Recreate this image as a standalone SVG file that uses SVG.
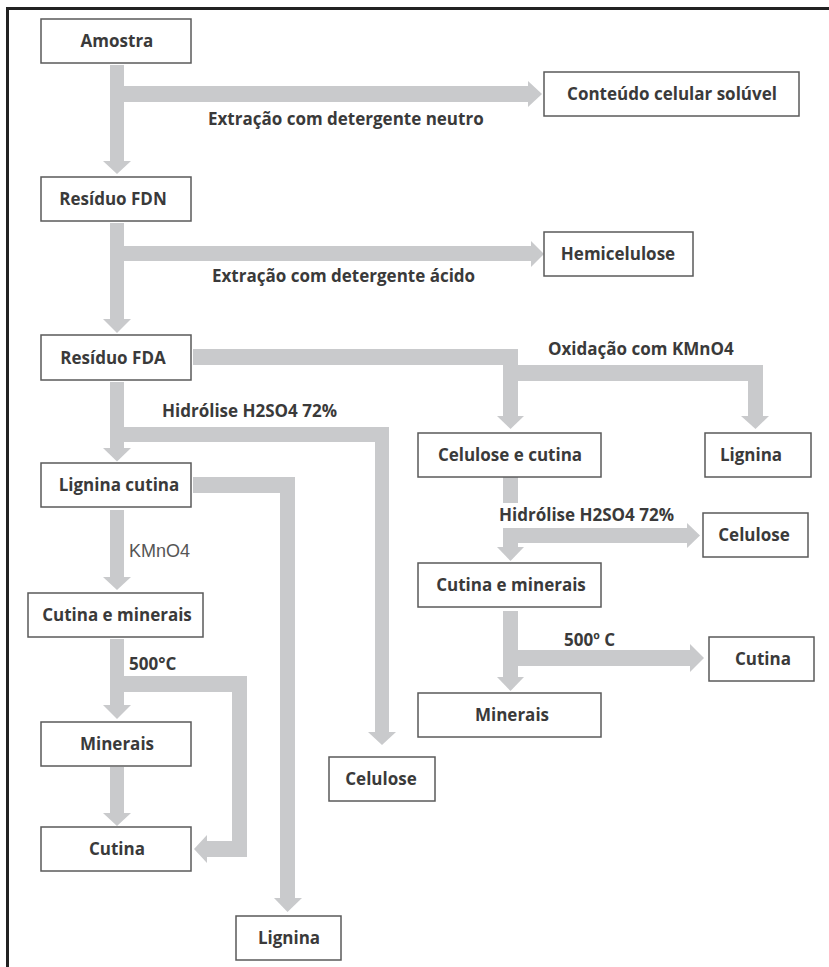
<svg xmlns="http://www.w3.org/2000/svg" width="829" height="967" viewBox="0 0 829 967">
<style>
.box{fill:#fff;stroke:#5a5a5a;stroke-width:1.5}
.t{font-family:"Open Sans","DejaVu Sans",sans-serif;font-weight:700;font-size:17px;fill:#3a3a3a}
.c{text-anchor:middle}
.r{font-family:"Liberation Sans",Arial,sans-serif;font-size:18px;fill:#555}
.a{fill:#c9cacc}
</style>
<rect x="0" y="0" width="829" height="967" fill="#fff"/>
<rect x="7.5" y="8.5" width="840" height="980" fill="none" stroke="#222" stroke-width="3"/>
<g id="connectors">
  <!-- Amostra -> FDN + branch -->
  <rect class="a" x="110" y="65" width="14" height="96"/>
  <polygon class="a" points="103,161 131,161 117,174"/>
  <rect class="a" x="124" y="86" width="404" height="16"/>
  <polygon class="a" points="528,81 528,107 542,94"/>
  <!-- FDN -> FDA + branch -->
  <rect class="a" x="110" y="223" width="14" height="96"/>
  <polygon class="a" points="103,319 131,319 117,333"/>
  <rect class="a" x="124" y="246" width="407" height="15"/>
  <polygon class="a" points="531,241 531,267 544,254"/>
  <!-- FDA -> Lignina cutina + branch to Celulose -->
  <rect class="a" x="110" y="382" width="14" height="66"/>
  <polygon class="a" points="103,448 131,448 117,461.5"/>
  <rect class="a" x="124" y="427" width="265" height="15"/>
  <rect class="a" x="375" y="427" width="14" height="305"/>
  <polygon class="a" points="368,732 396,732 382,745"/>
  <!-- FDA -> oxidation -->
  <rect class="a" x="193" y="349" width="325" height="16"/>
  <rect class="a" x="503" y="349" width="15" height="67"/>
  <polygon class="a" points="497,416 524,416 510.5,429"/>
  <rect class="a" x="518" y="365" width="245" height="16"/>
  <rect class="a" x="748" y="365" width="15" height="51"/>
  <polygon class="a" points="741,416 769,416 755.5,429"/>
  <!-- Lignina cutina -> Lignina -->
  <rect class="a" x="193" y="477" width="102" height="16"/>
  <rect class="a" x="280" y="477" width="15" height="421"/>
  <polygon class="a" points="274,898 302,898 287.5,912"/>
  <!-- Lignina cutina -> Cutina e minerais -->
  <rect class="a" x="110" y="510" width="14" height="67"/>
  <polygon class="a" points="103,577 131,577 117,590"/>
  <!-- Cutina e minerais -> Minerais + Cutina -->
  <rect class="a" x="110" y="639" width="14" height="66"/>
  <polygon class="a" points="103,705 131,705 117,719"/>
  <rect class="a" x="124" y="676" width="123" height="16"/>
  <rect class="a" x="232" y="676" width="15" height="181"/>
  <rect class="a" x="207" y="841" width="40" height="16"/>
  <polygon class="a" points="207,835 207,863 194,849"/>
  <!-- Minerais -> Cutina -->
  <rect class="a" x="110" y="767" width="14" height="46"/>
  <polygon class="a" points="103,813 131,813 117,826"/>
  <!-- Celulose e cutina -> -->
  <rect class="a" x="503" y="477" width="15" height="26"/>
  <rect class="a" x="503" y="528" width="185" height="15"/>
  <polygon class="a" points="687,523 687,548 700,535.5"/>
  <rect class="a" x="503" y="528" width="15" height="19"/>
  <polygon class="a" points="497,547 524,547 510.5,561"/>
  <!-- Cutina e minerais (right) -> -->
  <rect class="a" x="503" y="611" width="15" height="66"/>
  <polygon class="a" points="497,677 524,677 510.5,691"/>
  <rect class="a" x="518" y="650" width="172" height="16"/>
  <polygon class="a" points="690,644 690,672 704,658"/>
</g>
<g id="labels">
  <text class="t" x="208" y="125">Extração com detergente neutro</text>
  <text class="t" x="212" y="282">Extração com detergente ácido</text>
  <text class="t" x="548" y="355">Oxidação com KMnO4</text>
  <text class="t" x="162" y="417">Hidrólise H2SO4 72%</text>
  <text class="t" x="499" y="521">Hidrólise H2SO4 72%</text>
  <text class="r" x="129" y="557">KMnO4</text>
  <text class="t" x="129" y="670">500°C</text>
  <text class="t" x="564" y="646">500º C</text>
</g>
<g id="amostra"><rect class="box" x="41" y="19" width="150" height="44"/><text class="t c" x="117" y="47">Amostra</text></g>
<g id="conteudo"><rect class="box" x="544" y="72" width="255" height="44"/><text class="t c" x="672" y="100">Conteúdo celular solúvel</text></g>
<g id="fdn"><rect class="box" x="41" y="177" width="150" height="44"/><text class="t c" x="113" y="205">Resíduo FDN</text></g>
<g id="hemicelulose"><rect class="box" x="544" y="232" width="149" height="44"/><text class="t c" x="618" y="260">Hemicelulose</text></g>
<g id="fda"><rect class="box" x="41" y="335" width="150" height="45"/><text class="t c" x="113" y="364">Resíduo FDA</text></g>
<g id="celulose-cutina"><rect class="box" x="418" y="433" width="183" height="44"/><text class="t c" x="510" y="461">Celulose e cutina</text></g>
<g id="lignina-r"><rect class="box" x="705" y="433" width="106" height="44"/><text class="t c" x="751" y="461">Lignina</text></g>
<g id="lignina-cutina"><rect class="box" x="41" y="463" width="150" height="44"/><text class="t c" x="119" y="491">Lignina cutina</text></g>
<g id="celulose-r"><rect class="box" x="703" y="513" width="105" height="44"/><text class="t c" x="754" y="541">Celulose</text></g>
<g id="cutmin-r"><rect class="box" x="418" y="563" width="183" height="44"/><text class="t c" x="511" y="591">Cutina e minerais</text></g>
<g id="cutmin-l"><rect class="box" x="28" y="593" width="175" height="44"/><text class="t c" x="117" y="621">Cutina e minerais</text></g>
<g id="cutina-r"><rect class="box" x="709" y="637" width="105" height="44"/><text class="t c" x="763" y="665">Cutina</text></g>
<g id="minerais-r"><rect class="box" x="418" y="693" width="183" height="44"/><text class="t c" x="512" y="721">Minerais</text></g>
<g id="minerais-l"><rect class="box" x="41" y="722" width="150" height="44"/><text class="t c" x="117" y="750">Minerais</text></g>
<g id="celulose-m"><rect class="box" x="329" y="757" width="106" height="44"/><text class="t c" x="381" y="785">Celulose</text></g>
<g id="cutina-l"><rect class="box" x="41" y="827" width="150" height="44"/><text class="t c" x="117" y="855">Cutina</text></g>
<g id="lignina-b"><rect class="box" x="236" y="916" width="105" height="44"/><text class="t c" x="289" y="944">Lignina</text></g>
</svg>
